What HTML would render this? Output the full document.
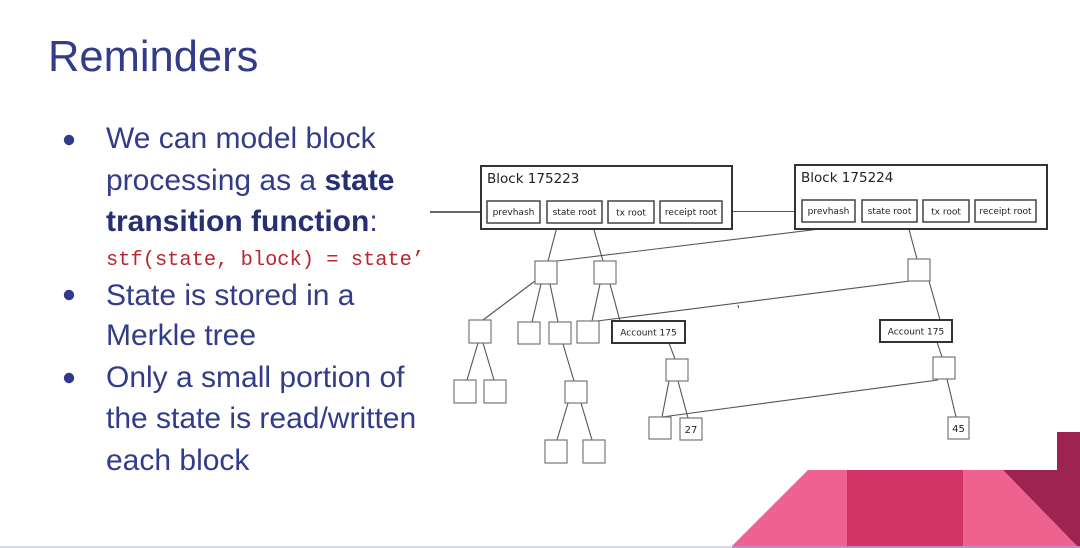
<!DOCTYPE html>
<html>
<head>
<meta charset="utf-8">
<style>
  html,body{margin:0;padding:0;background:#fff;}
  .page{position:relative;width:1080px;height:548px;overflow:hidden;background:#fff;}
  svg{position:absolute;left:0;top:0;}
  .t{font-family:"Liberation Sans",Arial,sans-serif;fill:#323c88;}
  .b{font-weight:bold;fill:#262f72;}
  .code{font-family:"Liberation Mono","DejaVu Sans Mono",monospace;fill:#b8262e;}
  .d{font-family:"DejaVu Sans","Liberation Sans",sans-serif;fill:#222;}
  .ln{stroke:#555;stroke-width:1.1;fill:none;}
  .box{fill:#fff;stroke:#777;stroke-width:1.2;}
  .bbox{fill:#fff;stroke:#333;stroke-width:2;}
  .ibox{fill:#fff;stroke:#444;stroke-width:1.5;}
</style>
</head>
<body>
<div class="page">
<svg width="1080" height="548" viewBox="0 0 1080 548" xmlns="http://www.w3.org/2000/svg">
  <!-- Title -->
  <text class="t" x="48" y="71" font-size="43.5">Reminders</text>

  <!-- Bullets -->
  <circle cx="69" cy="140" r="5.2" fill="#2e3a8c"/>
  <circle cx="69" cy="295" r="5.2" fill="#2e3a8c"/>
  <circle cx="69" cy="378" r="5.2" fill="#2e3a8c"/>

  <text class="t" x="106" y="148" font-size="30">We can model block</text>
  <text class="t" x="106" y="190" font-size="30">processing as a <tspan class="b">state</tspan></text>
  <text class="t" x="106" y="231" font-size="30"><tspan class="b">transition function</tspan>:</text>
  <text class="code" x="106" y="265" font-size="20.4">stf(state, block) = state’</text>
  <text class="t" x="106" y="305" font-size="30">State is stored in a</text>
  <text class="t" x="106" y="345" font-size="30">Merkle tree</text>
  <text class="t" x="106" y="387" font-size="30">Only a small portion of</text>
  <text class="t" x="106" y="428" font-size="30">the state is read/written</text>
  <text class="t" x="106" y="470" font-size="30">each block</text>

  <!-- Connector lines -->
  <line class="ln" x1="430" y1="212" x2="487" y2="212" style="stroke:#333;stroke-width:1.5"/>
  <line class="ln" x1="732" y1="211.5" x2="802" y2="211.5"/>
  <line class="ln" x1="558" y1="223" x2="548" y2="261"/>
  <line class="ln" x1="592" y1="223" x2="603" y2="261"/>
  <line class="ln" x1="877" y1="222" x2="557" y2="261"/>
  <line class="ln" x1="907" y1="222" x2="917" y2="259"/>
  <line class="ln" x1="910" y1="281" x2="597" y2="321"/>
  <line class="ln" x1="929" y1="281" x2="940" y2="320"/>
  <line class="ln" x1="937" y1="342" x2="942" y2="357"/>
  <line class="ln" x1="947" y1="379" x2="956" y2="417"/>
  <line class="ln" x1="938" y1="380" x2="662" y2="417"/>
  <line class="ln" x1="535" y1="281" x2="483" y2="320"/>
  <line class="ln" x1="541" y1="284" x2="532" y2="322"/>
  <line class="ln" x1="550" y1="284" x2="558" y2="322"/>
  <line class="ln" x1="600" y1="284" x2="592" y2="321"/>
  <line class="ln" x1="610" y1="284" x2="620" y2="321"/>
  <line class="ln" x1="478" y1="343" x2="467" y2="380"/>
  <line class="ln" x1="483" y1="343" x2="494" y2="380"/>
  <line class="ln" x1="563" y1="344" x2="574" y2="381"/>
  <line class="ln" x1="568" y1="403" x2="557" y2="440"/>
  <line class="ln" x1="581" y1="403" x2="592" y2="440"/>
  <line class="ln" x1="669" y1="343" x2="675" y2="359"/>
  <line class="ln" x1="669" y1="381" x2="662" y2="417"/>
  <line class="ln" x1="678" y1="381" x2="688" y2="418"/>
  <line class="ln" x1="738" y1="305" x2="738.5" y2="308"/>

  <!-- Block 175223 -->
  <rect class="bbox" x="481" y="166" width="251" height="63"/>
  <text class="d" x="487" y="183" font-size="13.5">Block 175223</text>
  <rect class="ibox" x="487" y="201" width="53" height="22"/>
  <rect class="ibox" x="547" y="201" width="55" height="22"/>
  <rect class="ibox" x="608" y="201" width="46" height="22"/>
  <rect class="ibox" x="660" y="201" width="62" height="22"/>
  <text class="d" x="513.5" y="215" font-size="9" text-anchor="middle">prevhash</text>
  <text class="d" x="574.5" y="215" font-size="9" text-anchor="middle">state root</text>
  <text class="d" x="631" y="215.5" font-size="9" text-anchor="middle">tx root</text>
  <text class="d" x="691" y="215" font-size="9" text-anchor="middle">receipt root</text>

  <!-- Block 175224 -->
  <rect class="bbox" x="795" y="165" width="252" height="64"/>
  <text class="d" x="801" y="182" font-size="13.5">Block 175224</text>
  <rect class="ibox" x="802" y="200" width="53" height="22"/>
  <rect class="ibox" x="862" y="200" width="55" height="22"/>
  <rect class="ibox" x="923" y="200" width="46" height="22"/>
  <rect class="ibox" x="975" y="200" width="61" height="22"/>
  <text class="d" x="828.5" y="214" font-size="9" text-anchor="middle">prevhash</text>
  <text class="d" x="889.5" y="214" font-size="9" text-anchor="middle">state root</text>
  <text class="d" x="946" y="214.5" font-size="9" text-anchor="middle">tx root</text>
  <text class="d" x="1005.5" y="214" font-size="9" text-anchor="middle">receipt root</text>

  <!-- Tree nodes -->
  <rect class="box" x="535" y="261" width="22" height="23"/>
  <rect class="box" x="594" y="261" width="22" height="23"/>
  <rect class="box" x="908" y="259" width="22" height="22"/>
  <rect class="box" x="469" y="320" width="22" height="23"/>
  <rect class="box" x="518" y="322" width="22" height="22"/>
  <rect class="box" x="549" y="322" width="22" height="22"/>
  <rect class="box" x="577" y="321" width="22" height="22"/>
  <rect class="bbox" x="612" y="321" width="73" height="22"/>
  <text class="d" x="648.5" y="335.5" font-size="9" text-anchor="middle">Account 175</text>
  <rect class="bbox" x="880" y="320" width="72" height="22"/>
  <text class="d" x="916" y="334.5" font-size="9" text-anchor="middle">Account 175</text>
  <rect class="box" x="666" y="359" width="22" height="22"/>
  <rect class="box" x="649" y="417" width="22" height="22"/>
  <rect class="box" x="680" y="418" width="22" height="22"/>
  <text class="d" x="691" y="433" font-size="10" text-anchor="middle">27</text>
  <rect class="box" x="454" y="380" width="22" height="23"/>
  <rect class="box" x="484" y="380" width="22" height="23"/>
  <rect class="box" x="565" y="381" width="22" height="22"/>
  <rect class="box" x="545" y="440" width="22" height="23"/>
  <rect class="box" x="583" y="440" width="22" height="23"/>
  <rect class="box" x="933" y="357" width="22" height="22"/>
  <rect class="box" x="948" y="417" width="21" height="22"/>
  <text class="d" x="958.5" y="432" font-size="10" text-anchor="middle">45</text>

  <!-- Decorative pink shapes -->
  <polygon points="808,470 847,470 847,546 732,546" fill="#ee6190"/>
  <rect x="847" y="470" width="116" height="76" fill="#d23468"/>
  <polygon points="963,470 1003,470 1077,546 963,546" fill="#ef6290"/>
  <polygon points="1003,470 1057,470 1057,432 1080,432 1080,546 1077,546" fill="#9d2450"/>

  <!-- Bottom strip -->
  <rect x="0" y="546" width="1080" height="2" fill="#dcdcef"/>
  <rect x="732" y="546" width="348" height="2" fill="#b98ec6"/>
</svg>
</div>
</body>
</html>
